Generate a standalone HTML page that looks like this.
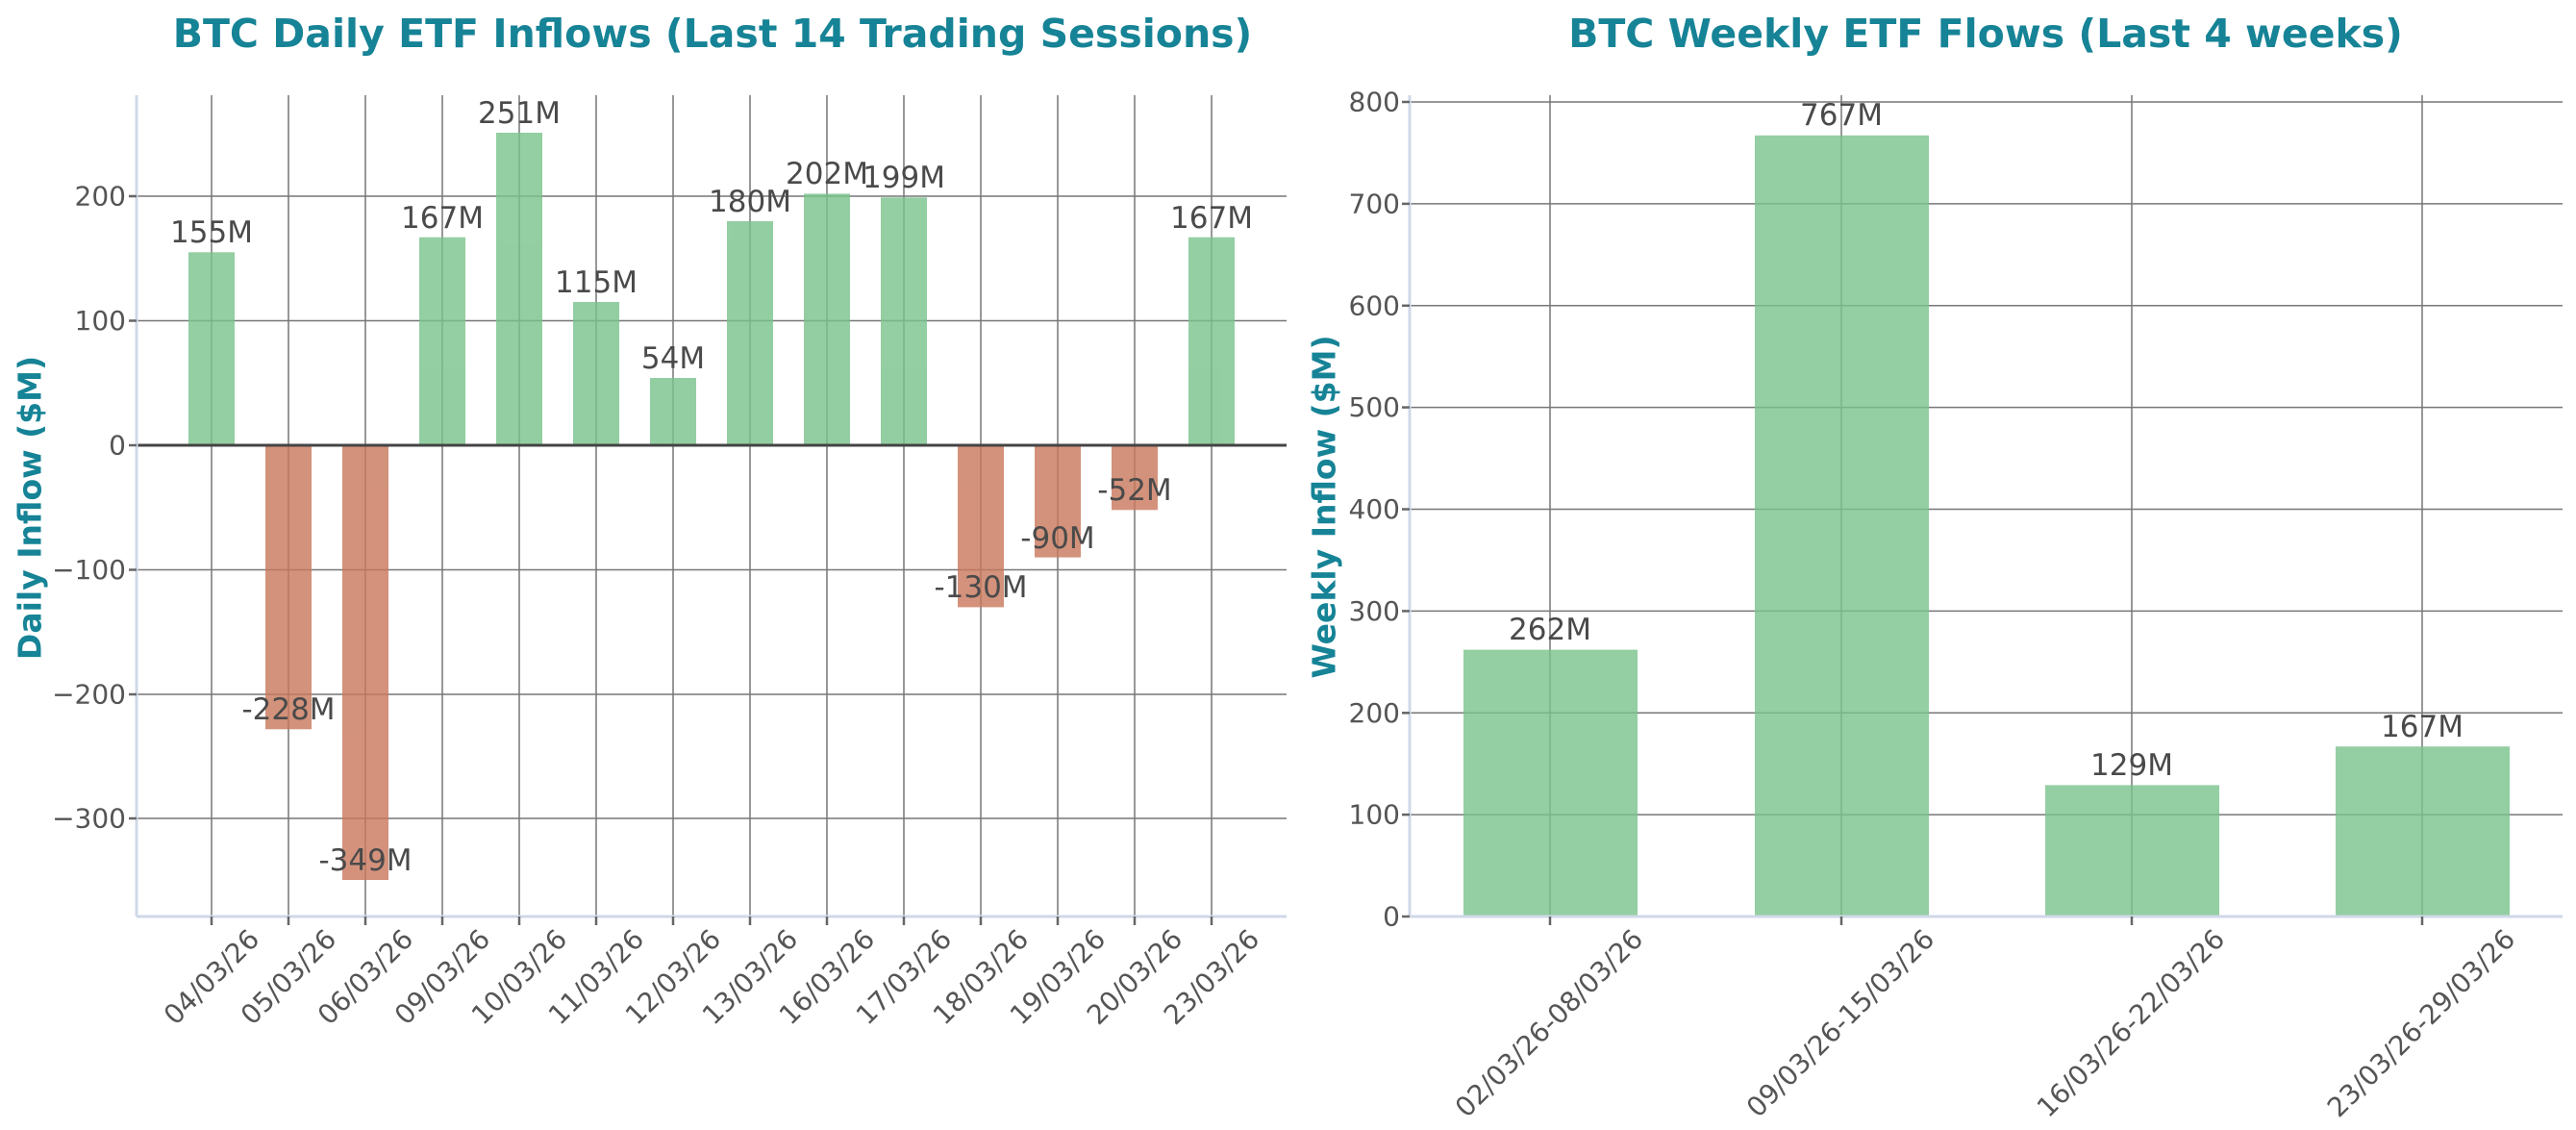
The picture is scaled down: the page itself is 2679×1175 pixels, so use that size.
<!DOCTYPE html>
<html><head><meta charset="utf-8"><style>
html,body{margin:0;padding:0;background:#fff;}
svg{display:block;}
text{font-family:"DejaVu Sans","Liberation Sans",sans-serif;}
</style></head><body>
<svg width="2679" height="1175" viewBox="0 0 2679 1175" xmlns="http://www.w3.org/2000/svg">
<!-- LEFT CHART -->
<text x="741" y="49" font-size="41" font-weight="bold" fill="#168396" text-anchor="middle">BTC Daily ETF Inflows (Last 14 Trading Sessions)</text>
<g stroke="#777" stroke-width="1.5">
<line x1="142" x2="1338" y1="204" y2="204"/>
<line x1="142" x2="1338" y1="333.5" y2="333.5"/>
<line x1="142" x2="1338" y1="592.5" y2="592.5"/>
<line x1="142" x2="1338" y1="722" y2="722"/>
<line x1="142" x2="1338" y1="851" y2="851"/>
<line x1="220" x2="220" y1="99" y2="952"/><line x1="300" x2="300" y1="99" y2="952"/><line x1="380" x2="380" y1="99" y2="952"/><line x1="460" x2="460" y1="99" y2="952"/><line x1="540" x2="540" y1="99" y2="952"/><line x1="620" x2="620" y1="99" y2="952"/><line x1="700" x2="700" y1="99" y2="952"/><line x1="780" x2="780" y1="99" y2="952"/><line x1="860" x2="860" y1="99" y2="952"/><line x1="940" x2="940" y1="99" y2="952"/><line x1="1020" x2="1020" y1="99" y2="952"/><line x1="1100" x2="1100" y1="99" y2="952"/><line x1="1180" x2="1180" y1="99" y2="952"/><line x1="1260" x2="1260" y1="99" y2="952"/>
</g>
<g opacity="0.8">
<rect x="196" y="262.3" width="48" height="200.7" fill="#79c28c"/>
<rect x="276" y="463" width="48" height="295.3" fill="#c9775b"/>
<rect x="356" y="463" width="48" height="452" fill="#c9775b"/>
<rect x="436" y="246.7" width="48" height="216.3" fill="#79c28c"/>
<rect x="516" y="138" width="48" height="325" fill="#79c28c"/>
<rect x="596" y="314" width="48" height="149" fill="#79c28c"/>
<rect x="676" y="393" width="48" height="70" fill="#79c28c"/>
<rect x="756" y="230" width="48" height="233" fill="#79c28c"/>
<rect x="836" y="201.4" width="48" height="261.6" fill="#79c28c"/>
<rect x="916" y="205.3" width="48" height="257.7" fill="#79c28c"/>
<rect x="996" y="463" width="48" height="168.4" fill="#c9775b"/>
<rect x="1076" y="463" width="48" height="116.6" fill="#c9775b"/>
<rect x="1156" y="463" width="48" height="67.3" fill="#c9775b"/>
<rect x="1236" y="246.7" width="48" height="216.3" fill="#79c28c"/>
</g>
<line x1="142" x2="1338" y1="463" y2="463" stroke="#444" stroke-width="3"/>
<line x1="142" x2="142" y1="99" y2="953" stroke="#cfd8e8" stroke-width="3"/>
<line x1="142" x2="1338" y1="953" y2="953" stroke="#cfd8e8" stroke-width="3"/>
<g stroke="#666" stroke-width="2.5">
<line x1="220" x2="220" y1="953" y2="962"/><line x1="300" x2="300" y1="953" y2="962"/><line x1="380" x2="380" y1="953" y2="962"/><line x1="460" x2="460" y1="953" y2="962"/><line x1="540" x2="540" y1="953" y2="962"/><line x1="620" x2="620" y1="953" y2="962"/><line x1="700" x2="700" y1="953" y2="962"/><line x1="780" x2="780" y1="953" y2="962"/><line x1="860" x2="860" y1="953" y2="962"/><line x1="940" x2="940" y1="953" y2="962"/><line x1="1020" x2="1020" y1="953" y2="962"/><line x1="1100" x2="1100" y1="953" y2="962"/><line x1="1180" x2="1180" y1="953" y2="962"/><line x1="1260" x2="1260" y1="953" y2="962"/>
<line x1="134" x2="142" y1="204" y2="204"/><line x1="134" x2="142" y1="333.5" y2="333.5"/><line x1="134" x2="142" y1="463" y2="463"/><line x1="134" x2="142" y1="592.5" y2="592.5"/><line x1="134" x2="142" y1="722" y2="722"/><line x1="134" x2="142" y1="851" y2="851"/>
</g>
<g font-size="28" fill="#555" text-anchor="end" dominant-baseline="central">
<text x="131" y="204">200</text><text x="131" y="333.5">100</text><text x="131" y="463">0</text><text x="131" y="592.5">−100</text><text x="131" y="722">−200</text><text x="131" y="851">−300</text>
</g>
<g font-size="28" fill="#555" text-anchor="middle" dominant-baseline="central">
<text transform="translate(220,1016) rotate(-45)">04/03/26</text>
<text transform="translate(300,1016) rotate(-45)">05/03/26</text>
<text transform="translate(380,1016) rotate(-45)">06/03/26</text>
<text transform="translate(460,1016) rotate(-45)">09/03/26</text>
<text transform="translate(540,1016) rotate(-45)">10/03/26</text>
<text transform="translate(620,1016) rotate(-45)">11/03/26</text>
<text transform="translate(700,1016) rotate(-45)">12/03/26</text>
<text transform="translate(780,1016) rotate(-45)">13/03/26</text>
<text transform="translate(860,1016) rotate(-45)">16/03/26</text>
<text transform="translate(940,1016) rotate(-45)">17/03/26</text>
<text transform="translate(1020,1016) rotate(-45)">18/03/26</text>
<text transform="translate(1100,1016) rotate(-45)">19/03/26</text>
<text transform="translate(1180,1016) rotate(-45)">20/03/26</text>
<text transform="translate(1260,1016) rotate(-45)">23/03/26</text>
</g>
<g font-size="31" fill="#4a4a4a" text-anchor="middle">
<text x="220" y="252">155M</text>
<text x="300" y="748">-228M</text>
<text x="380" y="905">-349M</text>
<text x="460" y="237">167M</text>
<text x="540" y="128">251M</text>
<text x="620" y="304">115M</text>
<text x="700" y="383">54M</text>
<text x="780" y="220">180M</text>
<text x="860" y="191">202M</text>
<text x="940" y="195">199M</text>
<text x="1020" y="621">-130M</text>
<text x="1100" y="570">-90M</text>
<text x="1180" y="520">-52M</text>
<text x="1260" y="237">167M</text>
</g>
<text transform="translate(31,528) rotate(-90)" font-size="33" font-weight="bold" fill="#168396" text-anchor="middle" dominant-baseline="central">Daily Inflow ($M)</text>

<!-- RIGHT CHART -->
<text x="2065" y="49" font-size="41" font-weight="bold" fill="#168396" text-anchor="middle">BTC Weekly ETF Flows (Last 4 weeks)</text>
<g stroke="#777" stroke-width="1.5">
<line x1="1466" x2="2665" y1="106" y2="106"/><line x1="1466" x2="2665" y1="211.9" y2="211.9"/><line x1="1466" x2="2665" y1="317.8" y2="317.8"/><line x1="1466" x2="2665" y1="423.6" y2="423.6"/><line x1="1466" x2="2665" y1="529.5" y2="529.5"/><line x1="1466" x2="2665" y1="635.4" y2="635.4"/><line x1="1466" x2="2665" y1="741.3" y2="741.3"/><line x1="1466" x2="2665" y1="847.1" y2="847.1"/>
<line x1="1612" x2="1612" y1="99" y2="952"/><line x1="1915" x2="1915" y1="99" y2="952"/><line x1="2217" x2="2217" y1="99" y2="952"/><line x1="2519" x2="2519" y1="99" y2="952"/>
</g>
<g opacity="0.8" fill="#79c28c">
<rect x="1522" y="675.6" width="181" height="277.4"/>
<rect x="1825" y="140.8" width="181" height="812.2"/>
<rect x="2127" y="816.4" width="181" height="136.6"/>
<rect x="2429" y="776.2" width="181" height="176.8"/>
</g>
<line x1="1466" x2="1466" y1="99" y2="953" stroke="#cfd8e8" stroke-width="3"/>
<line x1="1466" x2="2665" y1="953" y2="953" stroke="#cfd8e8" stroke-width="3"/>
<g stroke="#666" stroke-width="2.5">
<line x1="1612" x2="1612" y1="953" y2="962"/><line x1="1915" x2="1915" y1="953" y2="962"/><line x1="2217" x2="2217" y1="953" y2="962"/><line x1="2519" x2="2519" y1="953" y2="962"/>
<line x1="1458" x2="1466" y1="106" y2="106"/><line x1="1458" x2="1466" y1="211.9" y2="211.9"/><line x1="1458" x2="1466" y1="317.8" y2="317.8"/><line x1="1458" x2="1466" y1="423.6" y2="423.6"/><line x1="1458" x2="1466" y1="529.5" y2="529.5"/><line x1="1458" x2="1466" y1="635.4" y2="635.4"/><line x1="1458" x2="1466" y1="741.3" y2="741.3"/><line x1="1458" x2="1466" y1="847.1" y2="847.1"/><line x1="1458" x2="1466" y1="953" y2="953"/>
</g>
<g font-size="28" fill="#555" text-anchor="end" dominant-baseline="central">
<text x="1456" y="106">800</text><text x="1456" y="211.9">700</text><text x="1456" y="317.8">600</text><text x="1456" y="423.6">500</text><text x="1456" y="529.5">400</text><text x="1456" y="635.4">300</text><text x="1456" y="741.3">200</text><text x="1456" y="847.1">100</text><text x="1456" y="953">0</text>
</g>
<g font-size="28" fill="#555" text-anchor="middle" dominant-baseline="central">
<text transform="translate(1611,1064) rotate(-45)">02/03/26-08/03/26</text>
<text transform="translate(1914,1064) rotate(-45)">09/03/26-15/03/26</text>
<text transform="translate(2216,1064) rotate(-45)">16/03/26-22/03/26</text>
<text transform="translate(2518,1064) rotate(-45)">23/03/26-29/03/26</text>
</g>
<g font-size="31" fill="#4a4a4a" text-anchor="middle">
<text x="1612" y="665">262M</text>
<text x="1915" y="130">767M</text>
<text x="2217" y="806">129M</text>
<text x="2519" y="766">167M</text>
</g>
<text transform="translate(1377,527) rotate(-90)" font-size="33" font-weight="bold" fill="#168396" text-anchor="middle" dominant-baseline="central">Weekly Inflow ($M)</text>
</svg>
</body></html>
